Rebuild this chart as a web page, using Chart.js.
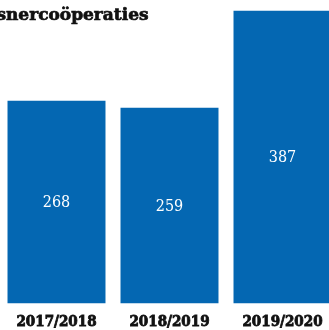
<!DOCTYPE html>
<html>
<head>
<meta charset="utf-8">
<script src="https://cdn.jsdelivr.net/npm/chart.js@4/dist/chart.umd.min.js"></script>
<style>
  html, body { margin: 0; padding: 0; overflow: hidden; background: #ffffff; width: 329px; height: 330px; }
  #wrap { position: absolute; left: 0; top: 0; width: 339px; height: 330px; }
</style>
</head>
<body>
<div id="wrap"><canvas id="c"></canvas></div>
<script>
const categories = ["2017/2018", "2018/2019", "2019/2020"];
const values = [268, 259, 387];
const titleText = "snercoöperaties";

const BAR_COLOR = "#0467b2";
const SERIF_COND = "'DejaVu Serif Condensed', 'DejaVu Serif', serif";

const titlePlugin = {
  id: "cutTitle",
  afterDraw(chart) {
    const ctx = chart.ctx;
    ctx.save();
    ctx.font = "bold 17px 'DejaVu Serif', serif";
    ctx.fillStyle = "#111111";
    ctx.strokeStyle = "#111111";
    ctx.lineWidth = 0.7;
    ctx.textBaseline = "alphabetic";
    ctx.textAlign = "left";
    const sW = ctx.measureText("s").width;
    ctx.fillText(titleText, 6 - sW, 20);
    ctx.strokeText(titleText, 6 - sW, 20);
    ctx.restore();
  }
};

const valueLabels = {
  id: "valueLabels",
  afterDatasetsDraw(chart) {
    const ctx = chart.ctx;
    const meta = chart.getDatasetMeta(0);
    ctx.save();
    ctx.font = "16px " + SERIF_COND;
    ctx.fillStyle = "#ffffff";
    ctx.textAlign = "center";
    ctx.textBaseline = "middle";
    meta.data.forEach((bar, i) => {
      const y = (bar.y + bar.base) / 2 + 1;
      ctx.fillText(String(values[i]), bar.x, y);
    });
    ctx.restore();
  }
};

new Chart(document.getElementById("c"), {
  type: "bar",
  data: {
    labels: categories,
    datasets: [{
      data: values,
      backgroundColor: BAR_COLOR,
      borderWidth: 0,
      categoryPercentage: 1.0,
      barPercentage: 0.867
    }]
  },
  options: {
    responsive: true,
    maintainAspectRatio: false,
    animation: false,
    layout: { padding: { top: 1, left: 0, right: 0, bottom: 0 } },
    plugins: {
      legend: { display: false },
      tooltip: { enabled: false },
      title: { display: false }
    },
    scales: {
      y: {
        display: false,
        min: 0,
        max: 400
      },
      x: {
        grid: { display: false, drawTicks: false },
        border: { display: false },
        ticks: {
          color: "#111111",
          textStrokeColor: "#111111",
          textStrokeWidth: 0.8,
          padding: 10,
          maxRotation: 0,
          font: { family: SERIF_COND, size: 15, weight: "bold" }
        },
        afterFit(scale) { scale.height = 26.5; }
      }
    }
  },
  plugins: [titlePlugin, valueLabels]
});
</script>
</body>
</html>
